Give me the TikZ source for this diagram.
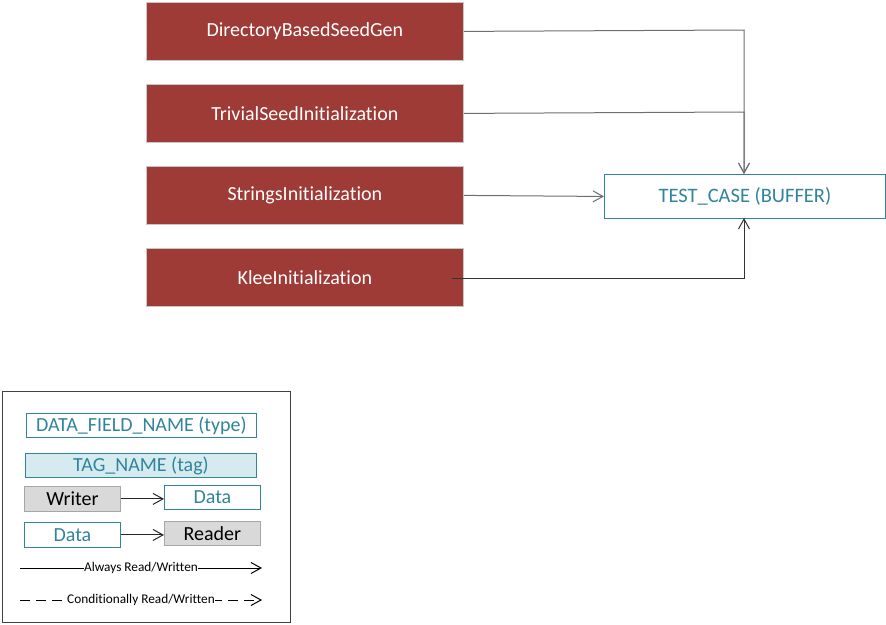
\documentclass[tikz,border=0pt]{standalone}
\usepackage{fontspec}
\setmainfont{Carlito}[Ligatures=NoCommon]
\usetikzlibrary{arrows.meta}
\definecolor{boxred}{HTML}{9E3B36}
\definecolor{teal}{HTML}{31849B}
\definecolor{tagblue}{HTML}{D5EBF0}
\definecolor{lgray}{HTML}{D9D9D9}
\definecolor{conn}{HTML}{6E6E6E}
\tikzset{
  x=1pt,y=-1pt,
  redbox/.style={draw=lgray!80!gray,line width=0.8pt,fill=boxred,text=white,anchor=north west,
    minimum width=317pt,minimum height=58pt,inner sep=0pt,font=\fontsize{20}{23}\selectfont},
  databox/.style={draw=teal,line width=0.9pt,fill=white,text=teal,anchor=north west,inner sep=0pt,
    font=\fontsize{20}{23}\selectfont},
  tagbox/.style={databox,fill=tagblue},
  gbox/.style={draw=gray!70,line width=0.8pt,fill=lgray,text=black,anchor=north west,inner sep=0pt,
    font=\fontsize{20}{23}\selectfont},
  conn/.style={draw=conn,line width=1pt,-{Straight Barb[length=10pt,width=11pt,line width=1pt]}},
  small/.style={font=\fontsize{13.3}{15}\selectfont,fill=white,inner sep=0.5pt}
}
\begin{document}
\begin{tikzpicture}
\useasboundingbox (0,0) rectangle (886,624);
% red boxes
\node[redbox] (d) at (146,2) {DirectoryBasedSeedGen};
\node[redbox] (t) at (146,84) {TrivialSeedInitialization};
\node[redbox] (s) at (146,166) {StringsInitialization};
\node[redbox] (k) at (146,248) {KleeInitialization};
\node[databox,minimum width=281pt,minimum height=44pt,font=\fontsize{20.5}{23}\selectfont] (tc) at (604,174) {TEST\_CASE (BUFFER)};
\coordinate (kst) at (452,278);
% connectors
\draw[conn] (d.east) -- (744,30) -- (744,174);
\draw[conn] (t.east) -- (744,112) -- (744,174);
\draw[conn] (s.east) -- (tc.west);
\draw[conn,draw=black!80] (kst) -- (744,278) -- (744,218);
% legend
\node[draw=black!75,line width=0.9pt,anchor=north west,minimum width=288pt,minimum height=231pt,inner sep=0pt] (leg) at (2,391) {};
\node[databox,minimum width=230pt,minimum height=24pt] (lf) at (26,413) {DATA\_FIELD\_NAME (type)};
\node[tagbox,minimum width=231pt,minimum height=24pt] (lt) at (25,453) {TAG\_NAME (tag)};
\node[gbox,minimum width=96pt,minimum height=25pt] (w) at (24,486) {Writer};
\node[databox,minimum width=96pt,minimum height=24pt] (wd) at (164,485) {Data};
\node[databox,minimum width=96pt,minimum height=25pt] (rd) at (24,522) {Data};
\node[gbox,minimum width=96pt,minimum height=24pt] (r) at (164,521) {Reader};
\draw[conn,draw=black!85] (w.east) -- (w.east -| wd.west);
\draw[conn,draw=black!85] (rd.east) -- (rd.east -| r.west);
\coordinate (a1) at (20,568);
\coordinate (a2) at (262,568);
\coordinate (c1) at (20,600);
\coordinate (c2) at (262,600);
\draw[conn,draw=black] (a1) -- node[small] {Always Read/Written} (a2);
\draw[conn,draw=black,dash pattern=on 10pt off 6pt] (c1) -- node[small] {Conditionally Read/Written} (c2);
\end{tikzpicture}
\end{document}
